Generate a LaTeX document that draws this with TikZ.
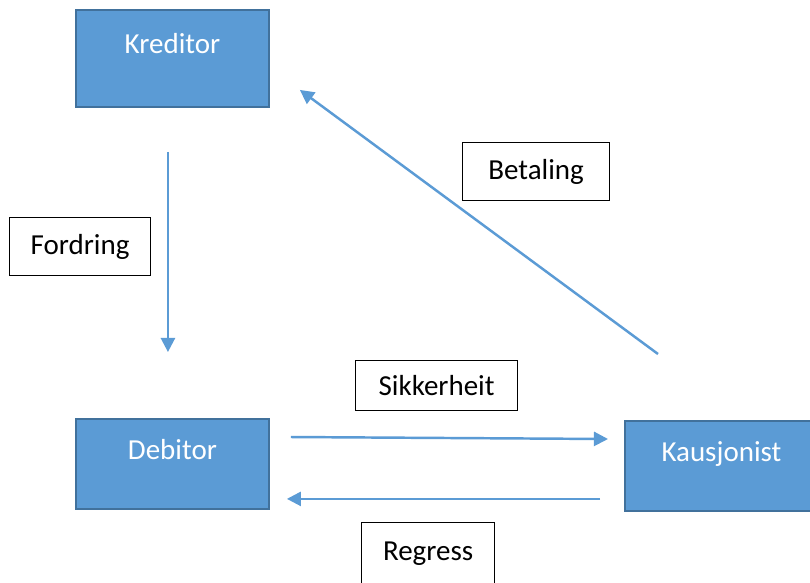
\documentclass[tikz,border=0pt]{standalone}
\usepackage{fontspec}
\setmainfont{Carlito}
\usetikzlibrary{arrows.meta,calc}
\definecolor{boksblaa}{HTML}{5B9BD5}
\definecolor{kantblaa}{HTML}{41719C}
\tikzset{
	aktor/.style={draw=kantblaa, fill=boksblaa, line width=1.1pt, text=white, minimum width=3.86cm, inner sep=0pt, anchor=north west, font=\fontsize{16.5}{20}\selectfont},
	etikett/.style={draw=black, fill=white, line width=0.7pt, inner sep=0pt, anchor=north west, font=\fontsize{16.5}{20}\selectfont},
	pil/.style={draw=boksblaa, line width=1.4pt, -{Triangle[length=8pt,width=8pt]}}
}

\begin{document}
\begin{tikzpicture}[x=0.02cm, y=-0.02cm]
			%%%%% START %%%%%
			
			\useasboundingbox (0, 0) rectangle (810, 582);
			\clip (0, 0) rectangle (810, 582);
			\fill[white] (0, 0) rectangle (810, 582);
			
			\node[aktor, text height=25pt, text depth=30.2pt] (kreditor) at (75, 9) {Kreditor};
			\node[aktor, text height=23.3pt, text depth=27.9pt] (debitor) at (75, 418) {Debitor};
			\node[aktor, text height=23.3pt, text depth=27.9pt] (kausjonist) at (624, 420) {Kausjonist};
			
			\node[etikett, minimum width=2.82cm, minimum height=1.16cm] (fordring) at (9, 217) {Fordring};
			\node[etikett, minimum width=2.94cm, minimum height=1.16cm] (betaling) at (462, 142) {Betaling};
			\node[etikett, minimum width=3.24cm, minimum height=1.0cm] (sikkerheit) at (355, 360) {Sikkerheit};
			\node[etikett, minimum width=2.66cm, minimum height=1.24cm] (regress) at (361, 522) {Regress};
			
			\draw[pil] ($(kreditor.south)+(-4.5, 44)$) -- ($(debitor.north)+(-4.5, -66)$);
			\draw[pil] ($(kausjonist.north west)+(34, -66)$) -- ($(kreditor.south east)+(30, -18)$);
			\draw[pil] ($(debitor.north east)+(21, 19)$) -- ($(kausjonist.north west)+(-16, 19)$);
			\draw[pil] ($(kausjonist.south west)+(-24, -13)$) -- ($(debitor.south east)+(17, -11)$);
			
			%%%%% END %%%%%
\end{tikzpicture}
\end{document}
